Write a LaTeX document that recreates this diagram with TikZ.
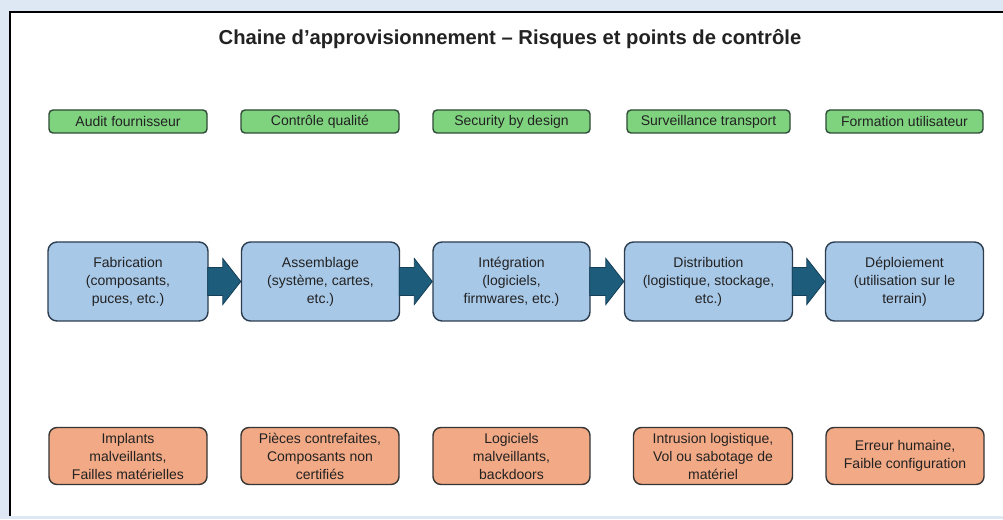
\documentclass[tikz,border=0pt]{standalone}
\usepackage{fontspec}
\setmainfont{Liberation Sans}
\usetikzlibrary{calc}
\definecolor{bgblue}{HTML}{DDE8F4}
\definecolor{gfill}{HTML}{7FD37F}
\definecolor{gdraw}{HTML}{2E4A36}
\definecolor{bfill}{HTML}{A8C8E8}
\definecolor{bdraw}{HTML}{2C3D50}
\definecolor{ofill}{HTML}{F2A985}
\definecolor{odraw}{HTML}{353535}
\definecolor{afill}{HTML}{1E5C7C}
\definecolor{adraw}{HTML}{153F57}
\definecolor{txt}{HTML}{222222}
\tikzset{
  x=1pt,y=1pt,
  box/.style={rounded corners=6pt, line width=1.4pt, align=center, text=txt,
    font=\fontsize{14}{18}\selectfont, inner sep=2pt},
  ctrl/.style={box, fill=gfill, draw=gdraw, minimum height=23pt, rounded corners=4pt},
  stage/.style={box, fill=bfill, draw=bdraw, minimum height=79pt, rounded corners=9pt},
  risk/.style={box, fill=ofill, draw=odraw, minimum height=57pt, rounded corners=8pt},
  arrowst/.style={fill=afill, draw=adraw, line width=0.8pt, line join=miter},
}
\newcommand\flowarrow[2]{%
  \filldraw[arrowst] let \p1=(#1.east), \p2=(#2.west) in
    (\x1-1pt,\y1+14pt) -- (\x2-18pt,\y1+14pt) -- (\x2-18pt,\y1+23pt) -- (\x2,\y1)
    -- (\x2-18pt,\y1-23pt) -- (\x2-18pt,\y1-14pt) -- (\x1-1pt,\y1-14pt) -- cycle;}
\begin{document}
\begin{tikzpicture}
\fill[bgblue] (0,0) rectangle (1003,519);
\useasboundingbox (0,0) rectangle (1003,519);
\fill[white] (9,3) rectangle (1003,507);
\draw[line width=2pt, black] (9.5,3) -- (9.5,506.5) -- (1003,506.5);
\node[font=\bfseries\fontsize{20.2}{24}\selectfont, text=txt] (title) at (510,480) {Chaine d’approvisionnement – Risques et points de contrôle};
% controls
\node[ctrl, minimum width=158pt] (c1) at (128,397.5) {Audit fournisseur};
\node[ctrl, minimum width=158pt] (c2) at (320,397.5) {Contrôle qualité};
\node[ctrl, minimum width=157pt] (c3) at (511.5,397.5) {Security by design};
\node[ctrl, minimum width=163pt] (c4) at (708.5,397.5) {Surveillance transport};
\node[ctrl, minimum width=157pt] (c5) at (904.5,397.5) {Formation utilisateur};
% stages
\node[stage, minimum width=160pt] (s1) at (128,237.5) {Fabrication\\(composants,\\puces, etc.)};
\node[stage, minimum width=158pt] (s2) at (320.5,237.5) {Assemblage\\(système, cartes,\\etc.)};
\node[stage, minimum width=157pt] (s3) at (511.5,237.5) {Intégration\\(logiciels,\\firmwares, etc.)};
\node[stage, minimum width=168pt] (s4) at (708.5,237.5) {Distribution\\(logistique, stockage,\\etc.)};
\node[stage, minimum width=158pt] (s5) at (904.5,237.5) {Déploiement\\(utilisation sur le\\terrain)};
\flowarrow{s1}{s2}
\flowarrow{s2}{s3}
\flowarrow{s3}{s4}
\flowarrow{s4}{s5}
% risks
\node[risk, minimum width=158pt] (r1) at (128,63) {Implants\\malveillants,\\Failles matérielles};
\node[risk, minimum width=158pt] (r2) at (320,63) {Pièces contrefaites,\\Composants non\\certifiés};
\node[risk, minimum width=157pt] (r3) at (511.5,63) {Logiciels\\malveillants,\\backdoors};
\node[risk, minimum width=159pt] (r4) at (713,63) {Intrusion logistique,\\Vol ou sabotage de\\matériel};
\node[risk, minimum width=158pt] (r5) at (905,63) {Erreur humaine,\\Faible configuration};
\end{tikzpicture}
\end{document}
